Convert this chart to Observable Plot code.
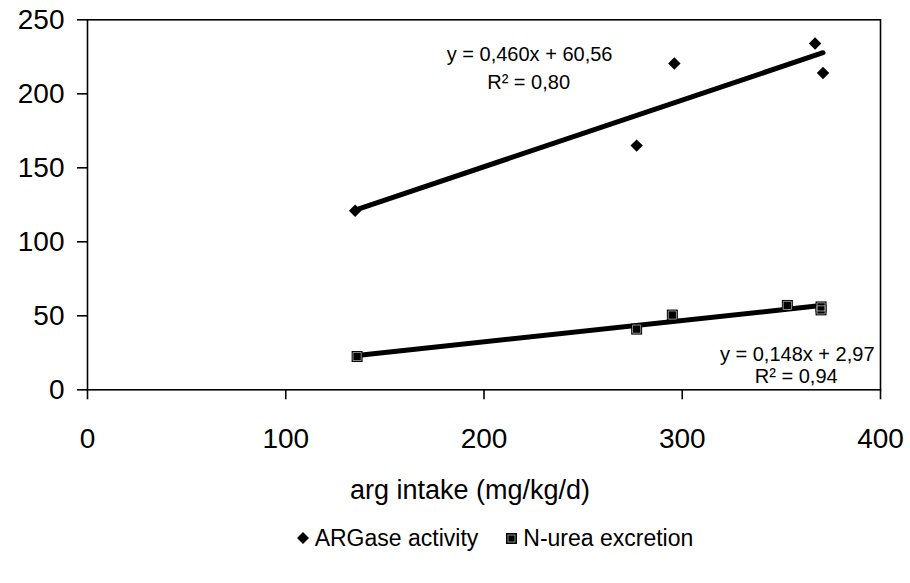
<!DOCTYPE html>
<html>
<head>
<meta charset="utf-8">
<script src="https://cdn.jsdelivr.net/npm/d3@7"></script>
<script src="https://cdn.jsdelivr.net/npm/@observablehq/plot@0.6"></script>
<style>
  html, body { margin: 0; padding: 0; background: #fff; }
  body { width: 910px; height: 583px; font-family: "Liberation Sans", Arial, sans-serif; }
  #legend { display: flex; justify-content: center; align-items: center; font-size: 23px; color: #000; padding-left: 80px; margin-top: 5px; line-height: 26px; }
  #legend .item { display: flex; align-items: center; margin: 0 14px; }
  #legend svg { margin-right: 6px; }
</style>
</head>
<body>
<div id="chart"></div>
<div id="legend"></div>
<script>
// ARGase activity series
const argaseIntake = [135, 277, 296, 367, 371];
const argaseActivity = [121, 165, 220.5, 234, 214];
// N-urea excretion series
const ureaIntake = [136, 277, 295, 353, 370, 370];
const ureaExcretion = [22.5, 41, 50.5, 57, 56, 54];
// axis ticks and texts
const xTicks = [0, 100, 200, 300, 400];
const yTicks = [0, 50, 100, 150, 200, 250];
const xTitle = "arg intake (mg/kg/d)";
const seriesNames = ["ARGase activity", "N-urea excretion"];
const eqArgase = ["y = 0,460x + 60,56", "R\u00B2 = 0,80"];
const eqUrea = ["y = 0,148x + 2,97", "R\u00B2 = 0,94"];

const argase = argaseIntake.map((x, i) => ({x, y: argaseActivity[i]}));
const urea = ureaIntake.map((x, i) => ({x, y: ureaExcretion[i]}));

const chart = Plot.plot({
  width: 910,
  height: 520,
  marginTop: 19.3,
  marginLeft: 87,
  marginRight: 30,
  marginBottom: 130.7,
  style: {fontFamily: "Liberation Sans, Arial, sans-serif", color: "#000", background: "#fff"},
  x: {domain: [0, 400]},
  y: {domain: [0, 250]},
  marks: [
    Plot.frame({stroke: "#000", strokeWidth: 1.6}),
    Plot.axisY({ticks: yTicks, tickSize: 10, tickPadding: 13, fontSize: 28, label: null, strokeWidth: 1.6}),
    Plot.axisX({ticks: xTicks, tickSize: 10, tickPadding: 28, fontSize: 28, label: null, strokeWidth: 1.6}),
    Plot.text([xTitle], {frameAnchor: "bottom", dx: -14, dy: 109, text: d => d, fontSize: 27, fill: "#000"}),
    Plot.linearRegressionY(argase, {x: "x", y: "y", ci: 0, stroke: "#000", strokeWidth: 5}),
    Plot.linearRegressionY(urea, {x: "x", y: "y", ci: 0, stroke: "#000", strokeWidth: 5}),
    Plot.dot(argase, {x: "x", y: "y", symbol: "diamond2", r: 5.6, fill: "#000", stroke: "none"}),
    Plot.dot(urea, {x: "x", y: "y", symbol: "square", r: 6.2, fill: "#000", stroke: "none"}),
    Plot.dot(urea, {x: "x", y: "y", symbol: "square", r: 4.6, fill: "none", stroke: "#b0b0b0", strokeWidth: 0.8}),
    Plot.text([eqArgase[0]], {x: 223, y: 226.8, text: d => d, fontSize: 20, fill: "#000"}),
    Plot.text([eqArgase[1]], {x: 222.5, y: 207.9, text: d => d, fontSize: 20, fill: "#000"}),
    Plot.text([eqUrea[0]], {x: 358, y: 24.1, text: d => d, fontSize: 20, fill: "#000"}),
    Plot.text([eqUrea[1]], {x: 357.5, y: 8.6, text: d => d, fontSize: 20, fill: "#000"})
  ]
});
document.getElementById("chart").appendChild(chart);

const legend = document.getElementById("legend");
const symbols = [
  '<svg width="12" height="12" viewBox="0 0 12 12"><path d="M6 0 L12 6 L6 12 L0 6 Z" fill="#000"/></svg>',
  '<svg width="11" height="11" viewBox="0 0 11 11"><rect x="0" y="0" width="11" height="11" fill="#000"/><rect x="2" y="2" width="7" height="7" fill="none" stroke="#b0b0b0" stroke-width="0.8"/></svg>'
];
seriesNames.forEach((name, i) => {
  const item = document.createElement("div");
  item.className = "item";
  item.innerHTML = symbols[i] + "<span>" + name + "</span>";
  legend.appendChild(item);
});
</script>
</body>
</html>
